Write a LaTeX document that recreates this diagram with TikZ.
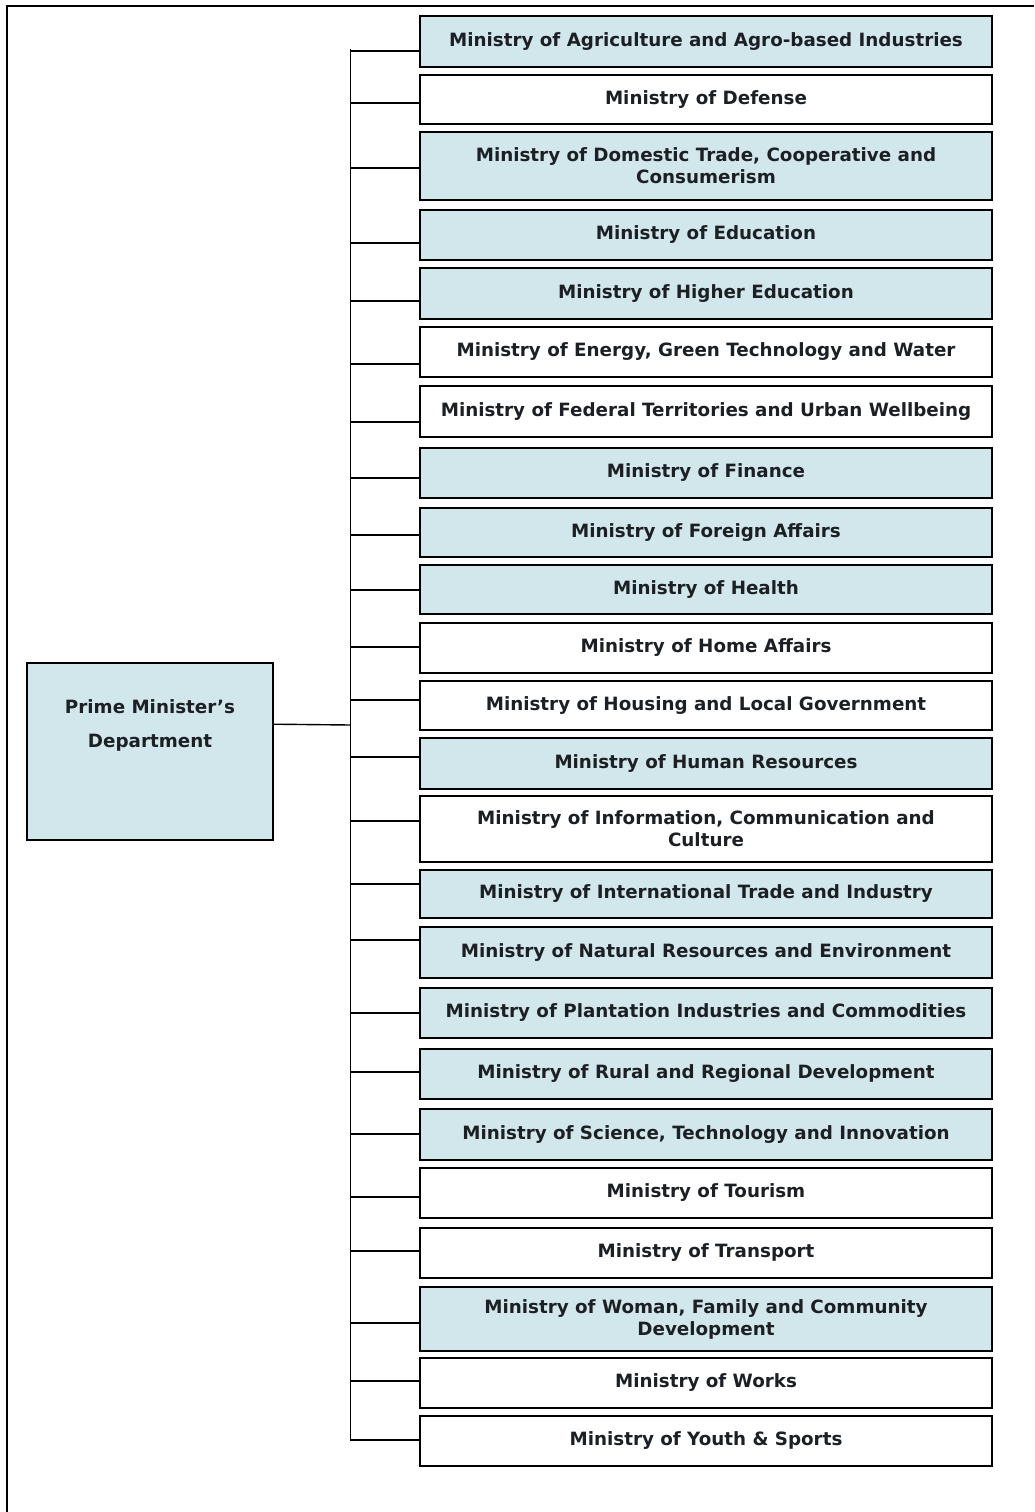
\documentclass[tikz,border=0pt]{standalone}
\usepackage{fontspec}
\setmainfont{DejaVu Sans}
\definecolor{boxblue}{RGB}{210,231,236}
\definecolor{inkdark}{RGB}{28,32,36}
\begin{document}
\begin{tikzpicture}[x=1pt, y=-1pt,
  minbox/.style={draw=black, line width=1.6pt, fill=white, inner sep=0pt,
    minimum width=572pt, align=center, text=inkdark,
    font=\fontsize{18.3}{22}\selectfont\bfseries},
  minblue/.style={minbox, fill=boxblue},
  link/.style={line width=1.4pt}]
 \useasboundingbox (0,0) rectangle (1034,1512);
 % outer frame
 \draw[line width=1.6pt] (1034,6) -- (7,6) -- (7,1512);
 % ministries
 \node (m1)  [minblue, minimum height=51pt] at (706,41.5)  {Ministry of Agriculture and Agro-based Industries};
 \node (m2)  [minbox,  minimum height=49pt] at (706,99.5)  {Ministry of Defense};
 \node (m3)  [minblue, minimum height=68pt] at (706,166)   {Ministry of Domestic Trade, Cooperative and\\Consumerism};
 \node (m4)  [minblue, minimum height=50pt] at (706,235)   {Ministry of Education};
 \node (m5)  [minblue, minimum height=51pt] at (706,293.5) {Ministry of Higher Education};
 \node (m6)  [minbox,  minimum height=50pt] at (706,352)   {Ministry of Energy, Green Technology and Water};
 \node (m7)  [minbox,  minimum height=51pt] at (706,411.5) {Ministry of Federal Territories and Urban Wellbeing};
 \node (m8)  [minblue, minimum height=50pt] at (706,473)   {Ministry of Finance};
 \node (m9)  [minblue, minimum height=49pt] at (706,532.5) {Ministry of Foreign Affairs};
 \node (m10) [minblue, minimum height=49pt] at (706,589.5) {Ministry of Health};
 \node (m11) [minbox,  minimum height=50pt] at (706,648)   {Ministry of Home Affairs};
 \node (m12) [minbox,  minimum height=49pt] at (706,705.5) {Ministry of Housing and Local Government};
 \node (m13) [minblue, minimum height=51pt] at (706,763.5) {Ministry of Human Resources};
 \node (m14) [minbox,  minimum height=66pt] at (706,829)   {Ministry of Information, Communication and\\Culture};
 \node (m15) [minblue, minimum height=48pt] at (706,894)   {Ministry of International Trade and Industry};
 \node (m16) [minblue, minimum height=51pt] at (706,952.5) {Ministry of Natural Resources and Environment};
 \node (m17) [minblue, minimum height=50pt] at (706,1013)  {Ministry of Plantation Industries and Commodities};
 \node (m18) [minblue, minimum height=50pt] at (706,1074)  {Ministry of Rural and Regional Development};
 \node (m19) [minblue, minimum height=51pt] at (706,1134.5){Ministry of Science, Technology and Innovation};
 \node (m20) [minbox,  minimum height=50pt] at (706,1193)  {Ministry of Tourism};
 \node (m21) [minbox,  minimum height=50pt] at (706,1253)  {Ministry of Transport};
 \node (m22) [minblue, minimum height=64pt] at (706,1319)  {Ministry of Woman, Family and Community\\Development};
 \node (m23) [minbox,  minimum height=50pt] at (706,1383)  {Ministry of Works};
 \node (m24) [minbox,  minimum height=50pt] at (706,1441)  {Ministry of Youth \& Sports};
 % prime minister's department
 \node (pmd) [minblue, minimum width=246pt, minimum height=177pt] at (150,751.5)
   {\parbox[c][177pt][t]{240pt}{\centering\vspace{37pt}Prime Minister's\\[12pt]Department}};
 % bus and stubs
 \coordinate (bustop) at (350.5,49);
 \coordinate (busbot) at (350.5,1441);
 \draw[link] (bustop) -- (busbot);
 \draw[link] ([yshift=-62pt]pmd.north east) -- (bustop |- 0,725);
 \foreach \i/\s in {1/51, 2/103, 3/168, 4/243, 5/301, 6/364, 7/422, 8/478,
   9/535, 10/590, 11/647, 12/700, 13/757, 14/821, 15/884, 16/940,
   17/1013, 18/1072, 19/1134, 20/1197, 21/1251, 22/1323, 23/1381, 24/1440}
  \draw[link] (bustop |- 0,\s) -- (m\i.west |- 0,\s);
\end{tikzpicture}
\end{document}
